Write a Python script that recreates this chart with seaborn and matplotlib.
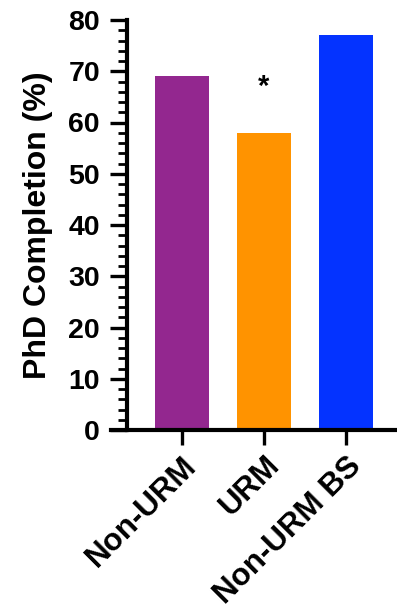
import matplotlib
matplotlib.use("Agg")
import matplotlib.pyplot as plt
import seaborn as sns
import pandas as pd
from matplotlib.ticker import MultipleLocator

categories = ["Non-URM", "URM", "Non-URM BS"]
values = [69, 58, 77]
colors = ["#93278F", "#FF9300", "#0433FF"]
yticks = [0, 10, 20, 30, 40, 50, 60, 70, 80]

sns.set_style("ticks")
plt.rcParams['font.family'] = ['Liberation Sans', 'DejaVu Sans']
plt.rcParams['text.color'] = 'black'
plt.rcParams['axes.labelcolor'] = 'black'
plt.rcParams['xtick.color'] = 'black'
plt.rcParams['ytick.color'] = 'black'

df = pd.DataFrame({"cat": categories, "val": values})
fig = plt.figure(figsize=(3.97, 6.10), dpi=100)
ax = fig.add_axes([111/397, (610-430)/610, (397-111)/397, 410/610])
sns.barplot(data=df, x="cat", y="val", hue="cat", palette=colors, width=0.66,
            legend=False, ax=ax, saturation=1, edgecolor="none")
ax.set_xlim(-0.86, 2.62)
ax.set_ylim(0, 80)
ax.set_yticks(yticks)
ax.yaxis.set_minor_locator(MultipleLocator(2))
ax.spines['left'].set_position(('data', -0.665))
ax.spines['top'].set_visible(False)
ax.spines['right'].set_visible(False)
for s in ['left', 'bottom']:
    ax.spines[s].set_linewidth(3)
    ax.spines[s].set_color('black')
ax.tick_params(axis='y', which='major', length=12.5, width=2.4, labelsize=20.5, pad=7)
ax.tick_params(axis='y', which='minor', length=6.5, width=2.0)
ax.tick_params(axis='x', which='major', length=11, width=2.4, labelsize=22.5, pad=4)
for lab in ax.get_yticklabels():
    lab.set_fontweight('bold')
ax.set_xticks(range(len(categories)))
ax.set_xticklabels(categories, rotation=45, ha='right', rotation_mode='anchor', fontweight='bold')
ax.set_xlabel("")
ax.set_ylabel("PhD Completion (%)", fontsize=23, fontweight='bold', labelpad=11)
ax.text(1, 67, "*", ha='center', va='center', fontsize=21, fontweight='bold')
fig.savefig("out.png", dpi=100)
